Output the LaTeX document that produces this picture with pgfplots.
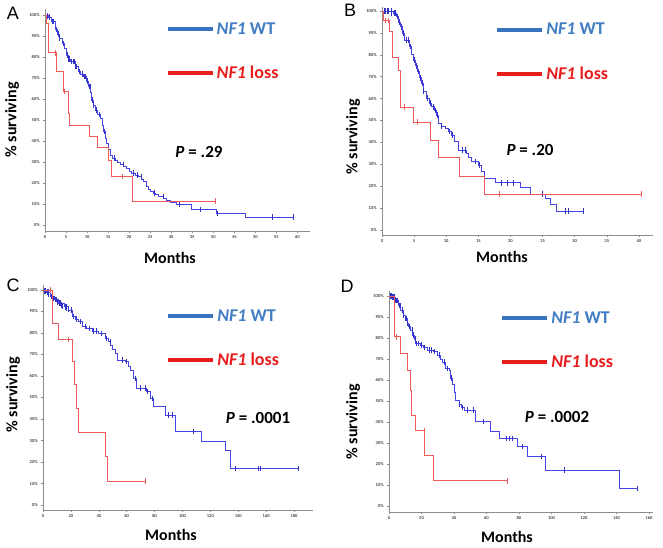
\documentclass[border=0pt]{standalone}
\usepackage{pgfplots}
\pgfplotsset{compat=1.18}
\usepackage{fontspec}
\setmainfont{Carlito}
\newfontfamily\arial{Liberation Sans}
\definecolor{kmblue}{RGB}{70,70,230}
\definecolor{kmbluedk}{RGB}{50,50,200}
\definecolor{kmred}{RGB}{236,90,90}
\definecolor{legblue}{RGB}{55,115,190}
\definecolor{txtblue}{RGB}{65,125,195}
\definecolor{legred}{RGB}{232,30,30}
\definecolor{axgray}{RGB}{140,140,140}

\pgfplotsset{
  km/.style={
    scale only axis, anchor=south west,
    axis x line=bottom, axis y line=left,
    axis line style={-, axgray, line width=0.6pt},
    tick style={axgray, line width=0.4pt},
    tick align=outside, major tick length=2pt,
    ytick={0,10,...,100},
    yticklabel={\pgfmathprintnumber{\tick}\%},
    tick label style={font=\fontsize{4.5}{5}\selectfont},
    /pgf/number format/assume math mode=true,
    xticklabel style={yshift=1pt},
    legend style={draw=none, fill=none, anchor=center, row sep=26pt,
      font=\fontsize{18}{18}\selectfont\bfseries},
    legend cell align=left,
    legend image code/.code={\draw (0pt,0pt) -- (31pt,0pt); \path (0pt,0pt) -- (45pt,0pt);},
  },
  wt/.style={color=kmblue, line width=0.55pt, const plot, forget plot},
  wtc/.style={color=kmbluedk, draw=none, mark=none, forget plot,
    error bars/.cd, y dir=both, y fixed=1.3, error mark=none,
    error bar style={draw=kmbluedk, line width=0.5pt, solid}},
  ls/.style={color=kmred, line width=0.65pt, const plot, forget plot},
  lsc/.style={color=kmred, draw=none, mark=none, forget plot,
    error bars/.cd, y dir=both, y fixed=1.3, error mark=none,
    error bar style={draw=kmred, line width=0.55pt, solid}},
}

\begin{document}
\begin{tikzpicture}
\useasboundingbox (0pt,0pt) rectangle (663pt,-547pt);

% ---------------- Panel A ----------------
\begin{axis}[km, at={(45pt,-231.3pt)}, width=265pt, height=222.6pt,
  xmin=0, xmax=63, ymin=-3, ymax=103, xtick={0,5,...,60},
  legend style={at={(axis description cs:0.672,0.808)}}]
\addplot[wt] coordinates {(0,100)(0.8,99)(1.5,97)(2.4,93)(3,91)(3.5,89)(4,86.5)(4.6,84)(5.1,81)(5.6,79)(6,77.8)(7.1,75.4)(7.9,73)(8.5,72)(9.1,70.7)(9.7,68.5)(10.3,66)(10.8,63)(11.1,59.6)(11.5,57)(11.9,54.8)(12.5,52.5)(13.1,50.9)(13.5,47.5)(13.9,44.5)(14.3,41.5)(14.6,39)(15,36)(15.4,33.4)(16,32)(16.6,31)(17.2,29.8)(17.8,28.7)(18.6,27.8)(19.4,27)(20,25.8)(20.6,24.7)(21.4,23.8)(22.2,23.1)(23,22)(23.4,20.8)(24,18.5)(24.5,16.8)(25.1,16)(25.7,15.2)(26.3,14.4)(26.9,13.6)(28.1,12.8)(28.9,12)(29.7,10.8)(31.3,9.8)(34.8,7.4)(40.8,5.4)(47.7,3.8)(59,3.8)};
\addplot[wtc] coordinates {(0.5,99.5)(1,99)(1.8,97)(2,97)(2.7,93)(3.2,91)(3.5,89)(4.3,86.5)(5.3,81)(5.5,79)(5.8,79)(6.3,77.8)(6.6,77.8)(7,77.8)(7.3,75.4)(7.5,75.4)(8.2,73)(8.8,72)(9.3,70.7)(9.5,70.7)(10,68.5)(10.5,66)(10.7,66)(11.3,59.6)(11.5,57)(12.2,54.8)(13,52.5)(14,44.5)(15,36)(16.5,32)(18.5,28.7)(21,24.7)(22,23.8)(23,23.1)(26,15.2)(28,13.6)(32,9.8)(37,7.4)(41,5.4)(54,3.8)(59,3.8)};
\addplot[ls] coordinates {(0,100)(0.3,96)(0.8,82)(2.8,73)(4.4,63.5)(5.5,53)(5.9,47.5)(10.5,42)(12.4,37)(15,31)(15.8,23)(20.8,11.5)(40.4,11.5)};
\addplot[lsc] coordinates {(2.4,82)(4.6,63.5)(18.4,23)(40.4,11.5)};
\addlegendimage{legblue, line width=4pt}
\addlegendentry{\textcolor{txtblue}{\textit{NF1} WT}}
\addlegendimage{legred, line width=4pt}
\addlegendentry{\textcolor{legred}{\textit{NF1} loss}}
\end{axis}

% ---------------- Panel B ----------------
\begin{axis}[km, at={(382pt,-235pt)}, width=271pt, height=228pt,
  xmin=0, xmax=42.2, ymin=-2.3, ymax=101.8, xtick={0,5,...,40},
  legend style={at={(axis description cs:0.63,0.803)}}]
\addplot[wt] coordinates {(0,100)(1.2,100)(1.7,99)(2.2,97.4)(2.6,95)(2.9,92.8)(3.2,90)(3.5,86.8)(4.3,83.7)(4.6,80)(4.8,77.6)(5.2,75)(5.5,72.3)(5.8,69.5)(6.1,67)(6.5,63.5)(6.9,60.1)(7.3,58)(7.7,56.3)(8.1,54.5)(8.5,52.5)(8.7,48.7)(9.2,47.5)(9.8,46.4)(10.3,45)(10.8,43.4)(11.3,40.3)(11.8,36.5)(13.1,35)(13.5,33)(13.9,31.2)(15,29.7)(15.5,26.6)(16,23.6)(17.6,21.6)(21.5,19.4)(23.1,16.3)(25.4,14.5)(26.2,11.7)(27.2,8.7)(31.3,8.7)};
\addplot[wtc] coordinates {(0.3,100)(0.5,100)(0.8,100)(1,100)(1.4,100)(1.5,99)(1.9,99)(2,99)(2.4,97.4)(2.7,95)(3,92.8)(3.3,90)(3.8,86.8)(4.1,86.8)(4.4,83.7)(5,77.6)(5.3,75)(5.6,72.3)(6,69.5)(6.3,67)(6.5,63.5)(7,60.1)(7.5,58)(8,56.3)(8.3,54.5)(8.6,52.5)(9.3,47.5)(10.5,45)(11,43.4)(12.5,36.5)(13,36.5)(14.5,31.2)(15.2,29.7)(18.5,21.6)(19.5,21.6)(20.5,21.6)(25,16.3)(28.5,8.7)(29,8.7)(31.3,8.7)};
\addplot[ls] coordinates {(0,100)(0.15,95.7)(1.1,90.6)(1.6,79)(2.5,73)(2.9,56)(4.8,49.3)(7.5,41)(8.7,33)(12,24.7)(15.9,16.4)(40.3,16.4)};
\addplot[lsc] coordinates {(0.5,95.7)(1.0,95.7)(3.5,56)(5.5,49.3)(18.2,16.4)(40.3,16.4)};
\addlegendimage{legblue, line width=4pt}
\addlegendentry{\textcolor{txtblue}{\textit{NF1} WT}}
\addlegendimage{legred, line width=4pt}
\addlegendentry{\textcolor{legred}{\textit{NF1} loss}}
\end{axis}

% ---------------- Panel C ----------------
\begin{axis}[km, at={(43pt,-510pt)}, width=270pt, height=225pt,
  xmin=0, xmax=193.6, ymin=-2.33, ymax=102.3, xtick={0,20,...,180},
  legend style={at={(axis description cs:0.669,0.763)}}]
\addplot[wt] coordinates {(0,100)(2,99)(5.2,96.9)(8,95.5)(11.2,93.8)(15,92.2)(18.4,90.7)(20.7,87.6)(23,86.5)(25.5,85.3)(27.9,83)(31,82)(35,81)(39.8,79.8)(44.6,77.5)(46.5,76)(48.2,74.4)(50,72.5)(51.7,70.5)(52.9,67.4)(58.9,66.7)(61,64.5)(62.5,62.8)(64.9,58.9)(67.2,54.3)(74.4,52.7)(76.8,49.6)(79.2,45.7)(87.5,41.9)(94.7,34.1)(113.7,29.5)(130.4,25.6)(134,17)(183,17)};
\addplot[wtc] coordinates {(1,99.5)(1.5,99.5)(3,99)(3.5,99)(4,98)(6,96.9)(6.5,96.9)(7,96)(9,95.5)(9.5,95.5)(10,94.5)(12,93.8)(12.5,93.8)(13,93)(14,92.5)(16,92.2)(16.5,92.2)(17,91.5)(18,91)(20,90.7)(22,87.6)(24,86.5)(27,85.3)(30,83)(33,82)(36,81)(38,81)(42,79.8)(45,77.5)(48,76)(57,67.4)(60,66.7)(66,58.9)(70,54.3)(73,54.3)(75,52.7)(78,49.6)(90,41.9)(93,41.9)(108,34.1)(138,17)(154,17)(156,17)(183,17)};
\addplot[ls] coordinates {(0,100)(6.4,84.6)(11.2,76.9)(20.7,67)(22.4,56)(23.8,45)(25.5,33.7)(44.6,22.5)(45.8,11.2)(73.2,11.2)};
\addplot[lsc] coordinates {(5,100)(18.4,76.9)(73.2,11.2)};
\addlegendimage{legblue, line width=4pt}
\addlegendentry{\textcolor{txtblue}{\textit{NF1} WT}}
\addlegendimage{legred, line width=4pt}
\addlegendentry{\textcolor{legred}{\textit{NF1} loss}}
\end{axis}

% ---------------- Panel D ----------------
\begin{axis}[km, at={(389pt,-512pt)}, width=264pt, height=221pt,
  xmin=0, xmax=162.5, ymin=-2.86, ymax=102.4, xtick={0,20,...,160},
  legend style={at={(axis description cs:0.639,0.778)}}]
\addplot[wt] coordinates {(0,100)(2,99.5)(3.7,98)(5.7,95.5)(7.2,93.3)(8.5,91)(9.8,89.4)(11,87)(12,85.4)(13.3,83.8)(14.5,81.5)(15.5,79.5)(16.4,77.5)(19,76.7)(21,75.5)(23.6,74.3)(27,73.5)(29.7,71.9)(31.5,70)(33,68.5)(34.9,65.6)(36.9,64.8)(38,61)(39,58)(40,54)(41,50.5)(43,48.5)(44.5,47)(46.2,45.7)(53.3,40.2)(62.6,35.4)(67.7,32.2)(79,28.3)(85.1,23.5)(96.4,17.1)(141.5,8.4)(152.8,8.4)};
\addplot[wtc] coordinates {(1,100)(1.5,100)(2,99.5)(2.5,99.5)(3,99.5)(4,98)(4.5,98)(5,98)(6,95.5)(6.5,95.5)(7,95.5)(8,93.3)(9,91)(10.2,89.4)(10.5,89.4)(11.5,87)(12.5,85.4)(14,83.8)(14.8,81.5)(15,81.5)(16,79.5)(17,77.5)(18,77.5)(20,76.7)(22,75.5)(25,74.3)(26,74.3)(28,73.5)(31,71.9)(34,68.5)(36,65.6)(38.5,61)(43.5,48.5)(45,47)(48,45.7)(52,45.7)(58,40.2)(72,32.2)(74,32.2)(76,32.2)(82,28.3)(94,23.5)(108,17.1)(152.8,8.4)};
\addplot[ls] coordinates {(0,100)(3.5,80.6)(6.8,72.7)(11.3,64.8)(13.3,55)(14,43.3)(16.4,36)(22,24.3)(27.3,12)(72.8,12)};
\addplot[lsc] coordinates {(4.5,80.6)(22,36)(72.8,12)};
\addlegendimage{legblue, line width=4pt}
\addlegendentry{\textcolor{txtblue}{\textit{NF1} WT}}
\addlegendimage{legred, line width=4pt}
\addlegendentry{\textcolor{legred}{\textit{NF1} loss}}
\end{axis}

% ---------------- labels ----------------
\begin{scope}[every node/.style={font=\fontsize{16}{16}\selectfont\bfseries}]
\node at (170pt,-258pt) {Months};
\node at (502pt,-257pt) {Months};
\node at (171pt,-535pt) {Months};
\node at (507pt,-537pt) {Months};
\node[rotate=90] at (12pt,-120pt) {\% surviving};
\node[rotate=90] at (353pt,-137pt) {\% surviving};
\node[rotate=90] at (13pt,-395pt) {\% surviving};
\node[rotate=90] at (353pt,-422pt) {\% surviving};
\end{scope}
\begin{scope}[every node/.style={font=\fontsize{17}{17}\selectfont\bfseries}]
\node at (199pt,-152pt) {\textit{P} = .29};
\node at (530pt,-150pt) {\textit{P} = .20};
\node at (258pt,-418pt) {\textit{P} = .0001};
\node at (557pt,-417pt) {\textit{P} = .0002};
\end{scope}
\begin{scope}[every node/.style={font=\arial\fontsize{18}{18}\selectfont}]
\node at (13pt,-13pt) {A};
\node at (350pt,-10pt) {B};
\node at (13pt,-285pt) {C};
\node at (347pt,-286pt) {D};
\end{scope}
\end{tikzpicture}
\end{document}
